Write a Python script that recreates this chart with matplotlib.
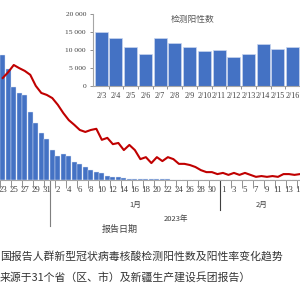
import matplotlib
matplotlib.use('Agg')
import matplotlib.pyplot as plt
from matplotlib.ticker import FuncFormatter

# ---------------- data ----------------
# main chart: day offset from 2023-01-01 (Dec 23 2022 ... Feb 15 2023)
day_offsets = list(range(-9, 46))
# detected positives (10k persons)
positives_wan = [500, 444, 372, 348, 340, 272, 228, 188, 164, 120,
                 96, 104, 96, 72, 64, 52, 40, 32, 28, 16,
                 12, 12, 8, 6, 5, 4, 3.5, 3, 3, 2.5,
                 2.5, 2, 2, 2, 1.8, 1.8, 1.6, 1.6, 1.5, 1.5,
                 1.6, 1.6, 1.51, 1.32, 1.09, 0.88, 1.32, 1.19, 1.07, 0.98,
                 1.0, 0.8, 0.89, 1.16, 1.04]
# positive rate (%)
positive_rate = [25.9, 27.4, 29.2, 28.4, 27.7, 26.7, 23.9, 22.1, 21.6, 20.8,
                 19.1, 17.0, 15.2, 14.0, 12.7, 12.2, 12.7, 13.0, 10.2, 10.7,
                 9.1, 9.4, 7.6, 8.9, 7.6, 5.3, 5.8, 4.3, 5.8, 4.8,
                 5.8, 5.3, 4.1, 4.1, 3.8, 3.3, 2.5, 2.0, 2.0, 1.5,
                 1.8, 1.3, 1.8, 1.3, 1.8, 1.3, 0.8, 1.0, 0.8, 1.0,
                 0.8, 1.5, 1.5, 1.3, 1.5]
tick_offsets = list(range(-9, 46, 2))
tick_labels = ['23', '25', '27', '29', '31',
               '2', '4', '6', '8', '10', '12', '14', '16', '18', '20',
               '22', '24', '26', '28', '30',
               '1', '3', '5', '7', '9', '11', '13', '15']
month_labels = ['1月', '2月']
month_bounds = [(-0.5, 30.5), (30.5, 45.5)]
year_label = '2023年'
xlabel = '报告日期'

# inset chart
inset_dates = ['2/3', '2/4', '2/5', '2/6', '2/7', '2/8', '2/9', '2/10',
               '2/11', '2/12', '2/13', '2/14', '2/15', '2/16']
inset_values = [15080, 13240, 10930, 8800, 13240, 11850, 10740, 9810,
                10000, 7960, 8890, 11570, 10370, 10740]
inset_title = '检测阳性数'

caption1 = '国报告人群新型冠状病毒核酸检测阳性数及阳性率变化趋势'
caption2 = '来源于31个省（区、市）及新疆生产建设兵团报告）'

# ---------------- style ----------------
BLUE = '#4472C4'
RED = '#C00000'
GREY = '#7F7F7F'
CJK = ['Noto Sans CJK SC', 'DejaVu Sans']
SERIF = 'Liberation Serif'

fig = plt.figure(figsize=(3, 3), dpi=100)
fig.patch.set_facecolor('white')

# ---------------- main axes ----------------
ax = fig.add_axes([0, 0.4, 1, 0.6])
ax.set_xlim(-8.93, 44.64)
ax.set_ylim(0, 720)
ax.bar(day_offsets, positives_wan, width=0.88, color=BLUE,
       edgecolor='#DCE5F5', linewidth=0.3)
for s in ['top', 'right', 'left']:
    ax.spines[s].set_visible(False)
ax.spines['bottom'].set_color('#A6A6A6')
ax.spines['bottom'].set_linewidth(0.8)
ax.set_yticks([])
ax.set_xticks(tick_offsets, tick_labels)
ax.tick_params(axis='x', which='major', length=0, pad=4.5,
               labelsize=6.3, labelcolor='#404040')
for lab in ax.get_xticklabels():
    lab.set_fontfamily(SERIF)
ax.set_xticks([t - 0.5 for t in tick_offsets], minor=True)
ax.tick_params(axis='x', which='minor', length=5.8, width=0.6, color=GREY,
               direction='out')

# month separators (extend below axis)
ax.plot([-0.5, -0.5], [0, -184], color=GREY, lw=0.8, clip_on=False)
ax.plot([30.5, 30.5], [0, -120], color='#404040', lw=0.8, clip_on=False)
for (a, b), m in zip(month_bounds, month_labels):
    ax.text((a + b) / 2, -100, m, ha='center', va='center', fontsize=5.5,
            family=CJK, color='#404040', clip_on=False)
ax.text((month_bounds[0][0] + month_bounds[1][1]) / 2, -156, year_label,
        ha='center', va='center', fontsize=5.5, family=CJK, color='#404040')
ax.text(12.3, -196, xlabel, ha='center', va='center', fontsize=6.5,
        family=CJK, color='#404040')

# rate line on secondary axis
ax2 = ax.twinx()
ax2.set_ylim(0, 45.7)
ax2.plot(day_offsets, positive_rate, color=RED, lw=1.5)
ax2.axis('off')

# ---------------- inset ----------------
axi = fig.add_axes([93 / 300, 1 - 86 / 300, 207 / 300, 72 / 300])
axi.set_facecolor('white')
axi.set_zorder(5)
xs = list(range(len(inset_dates)))
axi.bar(xs, inset_values, width=0.88, color=BLUE, edgecolor='#C9D6EF',
        linewidth=0.5)
axi.set_xlim(-0.56, 13.38)
axi.set_ylim(0, 20000)
axi.set_yticks([0, 5000, 10000, 15000, 20000])
axi.yaxis.set_major_formatter(
    FuncFormatter(lambda v, p: f'{int(v):,}'.replace(',', ' ')))
axi.set_xticks(xs, inset_dates)
axi.set_xticks([x + 0.5 for x in xs], minor=True)
axi.tick_params(axis='x', which='major', length=0, pad=4, labelsize=5.8,
                labelcolor='#404040')
axi.tick_params(axis='x', which='minor', length=2.2, width=0.6, color=GREY)
axi.tick_params(axis='y', length=2, width=0.6, color=GREY, pad=3,
                labelsize=5.4, labelcolor='#404040')
for lab in axi.get_xticklabels() + axi.get_yticklabels():
    lab.set_fontfamily(SERIF)
for s in ['top', 'right']:
    axi.spines[s].set_visible(False)
for s in ['left', 'bottom']:
    axi.spines[s].set_color('#A6A6A6')
    axi.spines[s].set_linewidth(0.8)
axi.text(0.483, 0.93, inset_title, transform=axi.transAxes, ha='center',
         va='center', fontsize=6.3, family=CJK, color='#595959')

# ---------------- captions ----------------
fig.text(0.0, 1 - 256 / 300, caption1, ha='left', va='center',
         fontsize=7.8, family=CJK, color='#333333')
fig.text(0.0, 1 - 277 / 300, caption2, ha='left', va='center',
         fontsize=7.8, family=CJK, color='#333333')

fig.savefig('out.png', dpi=100, facecolor='white')
